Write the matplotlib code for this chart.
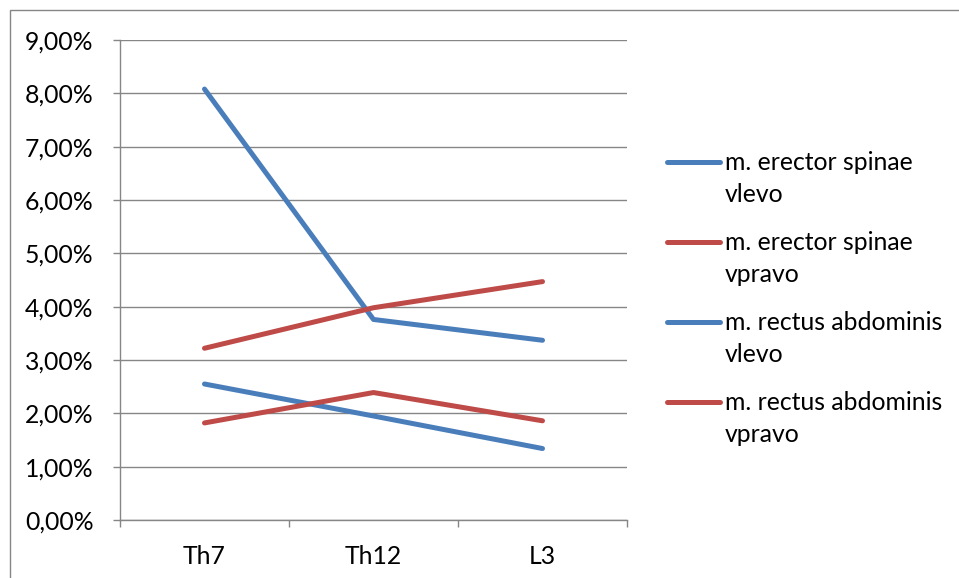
import numpy as np
import matplotlib.pyplot as plt
from matplotlib.lines import Line2D
from matplotlib.patches import Rectangle
from matplotlib.ticker import FuncFormatter, MultipleLocator

plt.rcParams['font.family'] = ['Lato', 'DejaVu Sans']

levels = ['Th7', 'Th12', 'L3']
erector_left = [8.08, 3.76, 3.37]
erector_right = [3.22, 3.98, 4.47]
rectus_left = [2.55, 1.95, 1.34]
rectus_right = [1.82, 2.39, 1.86]
labels = ['m. erector spinae\nvlevo', 'm. erector spinae\nvpravo',
          'm. rectus abdominis\nvlevo', 'm. rectus abdominis\nvpravo']

blue = '#4A7EBB'
red = '#BE4B48'
colors = [blue, red, blue, red]
gray = '#868686'
fs = 17.8

W, H = 959, 578
fig = plt.figure(figsize=(W / 100, H / 100), dpi=100)
ax = fig.add_axes([120 / W, 1 - 520 / H, 507 / W, 480 / H])

x = np.arange(len(levels))
series = [erector_left, erector_right, rectus_left, rectus_right]
for vals, c in zip(series, colors):
    ax.plot(x, vals, color=c, lw=3.6, solid_capstyle='round', solid_joinstyle='round')

ax.set_xlim(-0.5, 2.5)
ax.set_ylim(0, 9)
ax.yaxis.set_major_locator(MultipleLocator(1))
ax.yaxis.set_major_formatter(FuncFormatter(lambda v, p: f'{v:.2f}'.replace('.', ',') + '%'))

# category ticks sit between the groups, labels in the middle
ax.set_xticks(np.arange(len(levels) + 1) - 0.5)
ax.set_xticklabels([])
ax.set_xticks(x, levels, minor=True)
ax.tick_params(axis='x', which='major', length=5, color=gray, width=1)
ax.tick_params(axis='x', which='minor', length=0, pad=18, labelsize=fs)
ax.tick_params(axis='y', length=5, color=gray, width=1, pad=14, labelsize=fs)

ax.yaxis.grid(True, color=gray, lw=1)
for s in ['top', 'right']:
    ax.spines[s].set_visible(False)
for s in ['left', 'bottom']:
    ax.spines[s].set_color(gray)
    ax.spines[s].set_linewidth(1)

# chart frame
fig.add_artist(Rectangle((10 / W, -0.1), 2, 1.1 - 10 / H, transform=fig.transFigure,
                         fill=False, ec=gray, lw=1))

# legend on the right, handle next to first line of each label
for i, (lab, c) in enumerate(zip(labels, colors)):
    y0 = 162 + 80 * i
    fig.add_artist(Line2D([667 / W, 720 / W], [1 - y0 / H] * 2, color=c, lw=3.6,
                          solid_capstyle='round'))
    for j, line in enumerate(lab.split('\n')):
        fig.text(725 / W, 1 - (170 + 80 * i + 32 * j) / H, line, va='baseline',
                 ha='left', fontsize=fs)

fig.savefig('out.png', dpi=100)
